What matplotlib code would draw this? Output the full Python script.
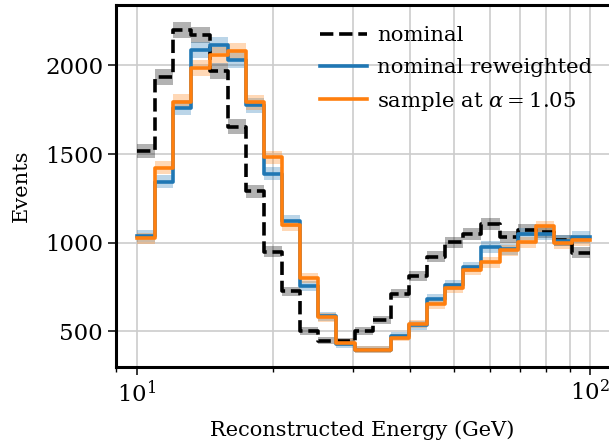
import numpy as np
import matplotlib.pyplot as plt

# 25 log-spaced bins from 10 to 100 GeV
bin_edges = np.logspace(1, 2, 26)

nominal = [1515, 1935, 2200, 2170, 1970, 1655, 1290, 950, 726, 504,
           448, 445, 502, 566, 714, 812, 922, 1003, 1049, 1106,
           1032, 1073, 1058, 1013, 943]
nominal_rw = [1038, 1345, 1760, 2085, 2113, 2032, 1774, 1390, 1123, 755,
              585, 430, 397, 397, 476, 534, 684, 760, 862, 976,
              963, 1049, 1049, 1011, 1032]
sample = [1025, 1424, 1796, 1985, 2060, 2081, 1792, 1481, 1098, 802,
          579, 437, 397, 397, 466, 544, 655, 745, 847, 890,
          957, 1003, 1092, 998, 1013]

series = [
    (nominal, 'black', '--', 'nominal'),
    (nominal_rw, '#1f77b4', '-', 'nominal reweighted'),
    (sample, '#ff7f0e', '-', r'sample at $\alpha = 1.05$'),
]

plt.rcParams['font.family'] = 'DejaVu Serif'
plt.rcParams['mathtext.fontset'] = 'dejavuserif'
plt.rcParams['font.size'] = 15

fig = plt.figure(figsize=(6.09, 4.43), dpi=100)
ax = fig.add_axes([0.191, 0.1716, 0.809, 0.8171])

for counts, color, ls, label in series:
    counts = np.asarray(counts, dtype=float)
    err = np.sqrt(counts)
    y = np.append(counts, counts[-1])
    ax.fill_between(bin_edges, np.append(counts - err, counts[-1] - err[-1]),
                    np.append(counts + err, counts[-1] + err[-1]),
                    step='post', color=color, alpha=0.3, lw=0)
    ax.step(bin_edges, y, where='post', color=color, ls=ls, lw=2.6, label=label)

ax.set_xscale('log')
ax.set_xlim(9, 110)
ax.set_ylim(300, 2340)
ax.set_yticks([500, 1000, 1500, 2000])
ax.grid(True, which='both', color='#cccccc', lw=1.2)
ax.set_axisbelow(True)

for side in ['left', 'top', 'bottom']:
    ax.spines[side].set_linewidth(2.2)
ax.spines['right'].set_visible(False)
ax.tick_params(which='major', length=6, width=1.1, labelsize=16.5)
ax.tick_params(which='minor', length=3.5, width=1.0)
ax.tick_params(axis='x', which='minor', labelbottom=False)

ax.set_xlabel('Reconstructed Energy (GeV)', labelpad=10)
ax.set_ylabel('Events', labelpad=10)
ax.legend(loc='upper right', frameon=False, handlelength=2.2,
          borderaxespad=0.6, labelspacing=0.6, handletextpad=0.5,
          fontsize=15.3, bbox_to_anchor=(1.01, 1.0))

fig.savefig('out.png', dpi=100)
